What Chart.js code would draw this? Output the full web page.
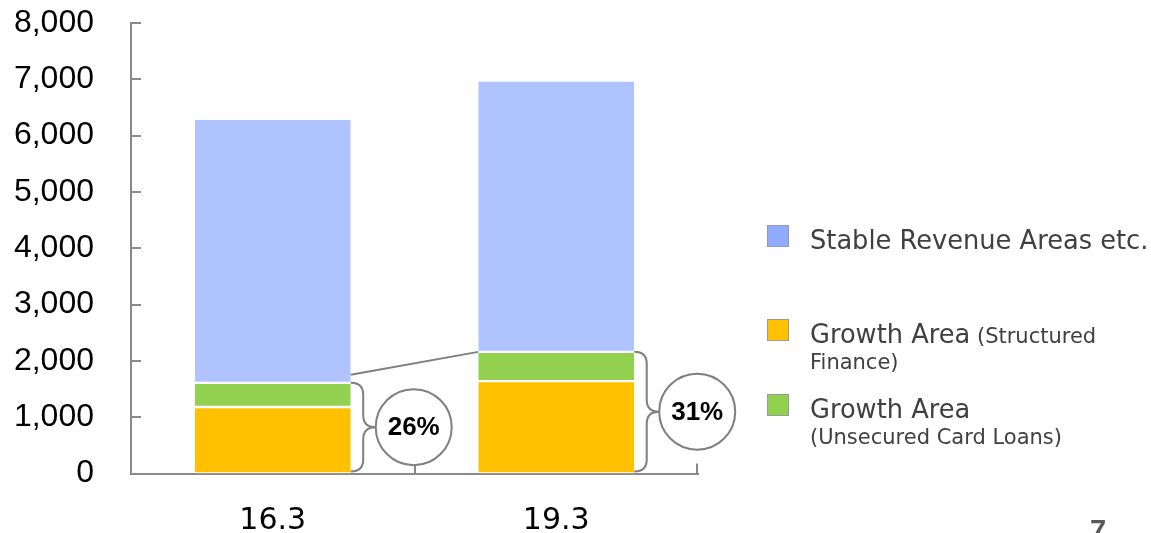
<!DOCTYPE html>
<html>
<head>
<meta charset="utf-8">
<script src="https://cdn.jsdelivr.net/npm/chart.js@4/dist/chart.umd.min.js"></script>
<style>
  html, body { margin: 0; padding: 0; background: #fff; }
  #wrap { width: 1151px; height: 533px; position: relative; }
</style>
</head>
<body>
<div id="wrap"><canvas id="c" width="1151" height="533"></canvas></div>
<script>
// Fiscal periods on the category axis
const categories = ['16.3', '19.3'];
// Segment values, bottom to top
const structuredFinance = [1180, 1640];   // Growth Area (Structured Finance)
const cardLoans = [430, 520];             // Growth Area (Unsecured Card Loans)
const stableRevenue = [4690, 4820];       // Stable Revenue Areas etc.
// Value axis range
const yMin = 0;
const yMax = 8000;
const yStep = 1000;

const AXIS = '#898989';
const LINE = '#7f7f7f';

// Growth share of each bar, shown in the circled labels
const growthShare = categories.map((_, i) => {
  const growth = structuredFinance[i] + cardLoans[i];
  const total = growth + stableRevenue[i];
  return Math.round(growth / total * 100) + '%';
});

const legendItems = [
  { marker: '#8faaff', lines: [[['Stable Revenue Areas etc.', 25.7]]], y: 236 },
  { marker: '#ffc000', lines: [[['Growth Area', 25.7], [' (Structured', 21]], [['Finance)', 21]]], y: 330 },
  { marker: '#92d050', lines: [[['Growth Area', 25.7]], [['(Unsecured Card Loans)', 21]]], y: 405 }
];

function drawBrace(ctx, x0, top, bottom, mid, w) {
  const hx = x0 + w / 2;
  const r = 12;
  ctx.beginPath();
  ctx.moveTo(x0, top);
  ctx.quadraticCurveTo(hx, top, hx, top + r);
  ctx.lineTo(hx, mid - r);
  ctx.quadraticCurveTo(hx, mid, x0 + w, mid);
  ctx.quadraticCurveTo(hx, mid, hx, mid + r);
  ctx.lineTo(hx, bottom - r);
  ctx.quadraticCurveTo(hx, bottom, x0, bottom);
  ctx.stroke();
}

const overlay = {
  id: 'overlay',
  afterDatasetsDraw(chart) {
    const ctx = chart.ctx;
    const y = chart.scales.y;
    const area = chart.chartArea;
    ctx.save();
    ctx.lineCap = 'butt';

    // inner tick marks on the value axis
    ctx.strokeStyle = AXIS;
    ctx.lineWidth = 2;
    y.ticks.forEach((t, i) => {
      if (t.value === yMin) return;
      const py = Math.round(y.getPixelForTick(i));
      ctx.beginPath();
      ctx.moveTo(area.left, py);
      ctx.lineTo(area.left + 10, py);
      ctx.stroke();
    });
    // inner tick marks at category boundaries
    const catW = (area.right - area.left) / categories.length;
    for (let i = 1; i <= categories.length; i++) {
      const px = Math.round(area.left + catW * i) - (i === categories.length ? 1 : 0);
      ctx.beginPath();
      ctx.moveTo(px, area.bottom);
      ctx.lineTo(px, area.bottom - 10);
      ctx.stroke();
    }

    const metaGreen = chart.getDatasetMeta(1);
    const metaBlue = chart.getDatasetMeta(2);

    // connector between the growth tops of the two bars
    const b0 = metaBlue.data[0], b1 = metaBlue.data[1];
    const r0 = b0.x + b0.width / 2, l1 = b1.x - b1.width / 2;
    ctx.strokeStyle = LINE;
    ctx.lineWidth = 2;
    ctx.beginPath();
    ctx.moveTo(r0, b0.base - 8);
    ctx.lineTo(l1, b1.base);
    ctx.stroke();

    // braces and circled growth share
    categories.forEach((_, i) => {
      const bar = metaGreen.data[i];
      const right = bar.x + bar.width / 2;
      const top = bar.y;
      const bottom = y.getPixelForValue(0) - 2;
      const mid = (top + bottom) / 2;
      const bw = 25;
      ctx.strokeStyle = LINE;
      ctx.lineWidth = 2;
      drawBrace(ctx, right, top, bottom, mid, bw);
      const rad = 38;
      const cx = right + bw + rad;
      ctx.beginPath();
      ctx.arc(cx, mid, rad, 0, Math.PI * 2);
      ctx.fillStyle = '#fff';
      ctx.fill();
      ctx.stroke();
      ctx.fillStyle = '#000';
      ctx.font = 'bold 26px "Liberation Sans", Arial, sans-serif';
      ctx.textAlign = 'center';
      ctx.textBaseline = 'middle';
      ctx.fillText(growthShare[i], cx, mid + 1);
    });

    // legend
    ctx.textAlign = 'left';
    ctx.textBaseline = 'alphabetic';
    legendItems.forEach(item => {
      ctx.fillStyle = item.marker;
      ctx.fillRect(767, item.y - 11, 22, 22);
      ctx.strokeStyle = '#9a9a9a';
      ctx.lineWidth = 1;
      ctx.strokeRect(767.5, item.y - 10.5, 21, 21);
      ctx.fillStyle = '#404040';
      item.lines.forEach((line, li) => {
        let tx = 810;
        const base = item.y + 13 + li * 26;
        line.forEach(([txt, size]) => {
          ctx.font = size + 'px "DejaVu Sans", Verdana, sans-serif';
          ctx.fillText(txt, tx, base);
          tx += ctx.measureText(txt).width;
        });
      });
    });

    // page number
    ctx.fillStyle = '#595959';
    ctx.font = 'bold 29px "Liberation Sans", Arial, sans-serif';
    ctx.fillText('7', 1090, 540);
    ctx.restore();
  }
};

new Chart(document.getElementById('c'), {
  type: 'bar',
  data: {
    labels: categories,
    datasets: [
      { label: 'Growth Area (Structured Finance)', data: structuredFinance, backgroundColor: '#ffc000' },
      { label: 'Growth Area (Unsecured Card Loans)', data: cardLoans, backgroundColor: '#92d050' },
      { label: 'Stable Revenue Areas etc.', data: stableRevenue, backgroundColor: '#afc3ff' }
    ].map(d => Object.assign(d, {
      borderColor: '#ffffff',
      borderWidth: { top: 1.2, bottom: 1.2, left: 0, right: 0 },
      borderSkipped: false,
      barPercentage: 0.55,
      categoryPercentage: 1
    }))
  },
  options: {
    responsive: false,
    animation: false,
    events: [],
    layout: { padding: { top: 23, right: 453, left: 0, bottom: 0 } },
    plugins: { legend: { display: false }, tooltip: { enabled: false } },
    scales: {
      x: {
        stacked: true,
        grid: { display: false, drawTicks: false },
        border: { display: true, color: AXIS, width: 2 },
        ticks: { color: '#000', padding: 30, font: { family: '"DejaVu Sans", Verdana, sans-serif', size: 30 } },
        afterFit(s) { s.height = 59.5; s.paddingLeft = 0; s.paddingRight = 0; }
      },
      y: {
        stacked: true,
        min: yMin,
        max: yMax,
        grid: { display: false, drawTicks: false },
        border: { display: true, color: AXIS, width: 2 },
        ticks: {
          stepSize: yStep,
          color: '#000',
          padding: 37,
          font: { family: '"Liberation Sans", Arial, sans-serif', size: 32 },
          callback: v => v.toLocaleString('en-US')
        },
        afterFit(s) { s.width = 131; s.paddingTop = 0; s.paddingBottom = 0; }
      }
    }
  },
  plugins: [overlay]
});
</script>
</body>
</html>
